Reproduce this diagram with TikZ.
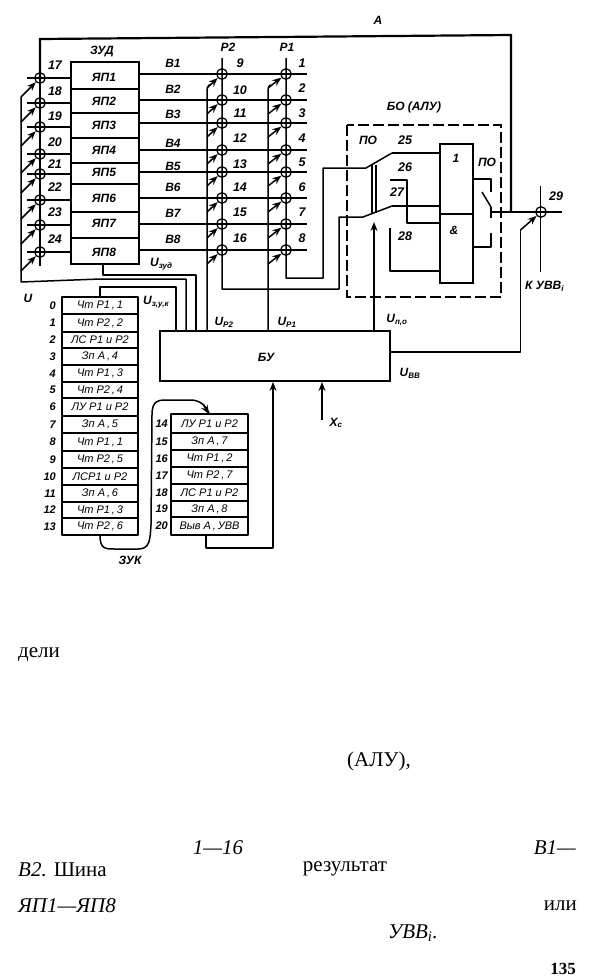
\documentclass[tikz,border=0pt]{standalone}
\usepackage{fontspec}
\setmainfont{Liberation Serif}
\newfontfamily\dgfont{Liberation Sans}
\usetikzlibrary{arrows.meta}
\tikzset{
  wire/.style={line width=1.5pt,line join=round},
  thinwire/.style={line width=1.3pt,line join=round},
  bus/.style={line width=2.2pt,line join=miter},
  ctl/.style={line width=1.5pt,-{Stealth[length=9pt,width=7pt,inset=3pt]}},
  xpt/.style={circle,draw,line width=1.3pt,minimum size=10.5pt,inner sep=0pt},
  blockbox/.style={draw,line width=1.7pt,inner sep=0pt},
  lab/.style={font=\dgfont\bfseries\itshape\fontsize{12}{12}\selectfont,inner sep=0pt},
  rowlab/.style={font=\dgfont\itshape\fontsize{11}{11}\selectfont,inner sep=0pt},
  numlab/.style={font=\dgfont\bfseries\itshape\fontsize{12.5}{13}\selectfont,inner sep=0pt},
  pnumlab/.style={font=\dgfont\bfseries\itshape\fontsize{11}{11}\selectfont,inner sep=0pt},
  frame/.style={line width=1.5pt,dash pattern=on 11pt off 4pt},
  txt/.style={font=\fontsize{21}{21}\selectfont,inner sep=0pt},
  ittxt/.style={font=\itshape\fontsize{21}{21}\selectfont,inner sep=0pt},
}
\begin{document}
\begin{tikzpicture}[x=1pt,y=-1pt]
\useasboundingbox (0,0) rectangle (589,978);
% --- memory block
\node[blockbox,minimum width=68pt,minimum height=202pt] (zud) at (105,163) {};
\foreach \i/\a in {1/89,2/113,3/138,4/163,5/184,6/212,7/238}
  \draw[wire] (71,\a) -- (139,\a);
\foreach \i/\y in {1/77,2/101,3/125,4/150,5/172,6/198,7/223,8/252}
  \node[lab] (yp\i) at (104,\y) {ЯП\i};
\node[lab] (zudlab) at (102,52) {ЗУД};
% --- crosspoints
\foreach \i/\y in {1/74,2/100,3/123,4/150,5/172,6/198,7/224,8/250}{
  \node[xpt] (pb\i) at (222,\y) {};
  \node[xpt] (pa\i) at (286,\y) {};
  \draw[wire] (pb\i -| zud.east) -- (pb\i.center) -- (pa\i.center) -- ++(21,0);
}
\foreach \i/\y in {1/78,2/103,3/127,4/154,5/174,6/200,7/225,8/252}{
  \node[xpt] (l\i) at (40,\y) {};
  \draw[wire] (27,\y) -- (l\i.center) -- (l\i -| zud.west);
}
% --- control unit
\node[blockbox,minimum width=230pt,minimum height=50pt] (bu) at (275,356) {};
\node[lab] (bulab) at (266,357) {БУ};
% --- bus A
\node[xpt] (c29) at (541,212) {};
\draw[bus] (40,80) -- (40,39) -- (511,35) -- (511,212);
\draw[wire] (40,80) -- (40,266);
% --- register verticals
\coordinate (topb) at (222,58);
\coordinate (topa) at (286,58);
\draw[wire] (topb) -- (222,289) -- (339,289) -- (339,217) -- (363,217) -- (392,206) coordinate (swb);
\draw[wire] (topa) -- (286,278) -- (323,278) -- (323,168) -- (366,168) -- (392,153) coordinate (swa);
% --- control buses
\draw[wire,rounded corners=3pt] (bu.north -| 207,0) -- (207,87) -- (209,85);
\draw[wire,rounded corners=3pt] (bu.north -| 268,0) -- (268,87) -- (270,85);
\draw[wire] (21,97) -- (21,282) -- (100,279) -- (186,279) -- (bu.north -| 186,0);
\draw[wire] ([xshift=-2pt]zud.south) -- (103,275) -- (196,275) -- (bu.north -| 196,0);
% --- arrows to crosspoints
\foreach \i in {1,...,8}{
  \draw[ctl] (pb\i) ++(-15,14) -- (pb\i);
  \draw[ctl] (pa\i) ++(-18,14) -- (pa\i);
  \draw[ctl] (l\i) ++(-19,19) -- (l\i);
}
% --- number labels
\foreach \t/\y in {17/65,18/91,19/116,20/142,21/164,22/187,23/212,24/239}
  \node[numlab] (n\t) at (55,\y) {\t};
\foreach \t/\y in {9/63,10/90,11/113,12/138,13/164,14/187,15/212,16/238}
  \node[numlab] (n\t) at (240,\y) {\t};
\foreach \t/\y in {1/63,2/88,3/113,4/138,5/162,6/187,7/212,8/238}
  \node[numlab] (n\t) at (302,\y) {\t};
\foreach \t/\y in {1/63,2/89,3/114,4/143,5/166,6/187,7/213,8/239}
  \node[lab] (vb\t) at (173,\y) {В\t};
\node[lab] (rb) at (228,47) {Р2};
\node[lab] (ra) at (287,47) {Р1};
\node[lab] (alab) at (378,20) {А};
\node[lab,anchor=west] (uzud) at (150,264) {U\textsubscript{зуд}};
\node[lab,anchor=west] (uzuk) at (143,302) {U\textsubscript{з,у,к}};
\node[lab] (ulab) at (28,298) {U};
\node[lab] (urb) at (224,322) {U\textsubscript{Р2}};
\node[lab] (ura) at (287,322) {U\textsubscript{Р1}};
% --- operation block
\draw[frame] (347,125) rectangle (501,297);
\node[lab] (bolab) at (414,107) {БО (АЛУ)};
\node[lab] (po1) at (368,140) {ПО};
\node[lab] (po2) at (487,162) {ПО};
\node[numlab] (n25) at (405,140) {25};
\node[numlab] (n26) at (405,167) {26};
\node[numlab] (n27) at (397,192) {27};
\node[numlab] (n28) at (405,236) {28};
\node[numlab] (n29) at (556,196) {29};
\node[blockbox,minimum width=33pt,minimum height=70pt] (gor) at (456.5,179) {};
\node[blockbox,minimum width=33pt,minimum height=69pt] (gand) at (456.5,248.5) {};
\node[lab] (orlab) at (456,158) {1};
\node[lab] (andlab) at (454,230) {\&};
\draw[wire] (swa) -- (swa -| gor.west);
\draw[wire] (swb) -- (swb -| gor.west);
\draw[thinwire] (372,165) -- (372,213);
\draw[thinwire] (376,165) -- (376,213);
\draw[wire] (390,180) -- (407,180) -- (407,223) -- (440,223);
\draw[wire] (390,228) -- (390,271) -- (440,271);
\node[lab] (upo) at (397,320) {U\textsubscript{п,о}};
\draw[ctl] (374,331) -- (374,222);
% --- output
\draw[wire] (473,179) -- (491,179) -- (491,192);
\draw[wire] (482,192) -- (491,207);
\draw[wire] (491,207) -- (491,218);
\draw[wire] (473,247) -- (491,247) -- (491,233);
\draw[wire] (491,212) -- (c29.center) -- (562,212);
\draw[wire] (540.5,186) -- (540.5,272);
\draw[wire] (bu.east |- 0,352) -- (520.5,352) -- (520.5,230);
\draw[ctl] (520.5,230) -- (c29);
\node[lab,anchor=west] (kuvv) at (525,286) {К УВВ\textsubscript{\itshape i}};
\node[lab] (uvv) at (410,373) {U\textsubscript{ВВ}};
% --- Xc
\coordinate (xcs) at (322,420);
\draw[ctl,line width=2pt] (xcs) -- (322,382);
\node[lab] (xc) at (336,423) {X\textsubscript{с}};
% --- program, left column
\foreach \n/\a/\b/\t in {
 0/297/314/Чт Р1\,{,}\,1,
 1/314/332/Чт Р2\,{,}\,2,
 2/332/348/ЛС Р1 и Р2,
 3/348/365/Зп А\,{,}\,4,
 4/365/382/Чт Р1\,{,}\,3,
 5/382/398/Чт Р2\,{,}\,4,
 6/398/416/ЛУ Р1 и Р2,
 7/416/433/Зп А\,{,}\,5,
 8/433/451/Чт Р1\,{,}\,1,
 9/451/468/Чт Р2\,{,}\,5,
 10/468/485/ЛСР1 и Р2,
 11/485/502/Зп А\,{,}\,6,
 12/502/518/Чт Р1\,{,}\,3,
 13/518/535/Чт Р2\,{,}\,6}{
  \draw[wire] (62,\a) rectangle (138,\b) node[midway,rowlab] (pr\n) {\t};
  \node[pnumlab,anchor=east] (pn\n) at (56,{(\a+\b)/2}) {\n};
}
% --- program, right column
\foreach \n/\a/\b/\t in {
 14/414/433/ЛУ Р1 и Р2,
 15/433/450/Зп А\,{,}\,7,
 16/450/467/Чт Р1\,{,}\,2,
 17/467/484/Чт Р2\,{,}\,7,
 18/484/501/ЛС Р1 и Р2,
 19/501/517/Зп А\,{,}\,8,
 20/517/535/Выв А\,{,}\,УВВ}{
  \draw[wire] (171,\a) rectangle (248,\b) node[midway,rowlab] (pr\n) {\t};
  \node[pnumlab,anchor=east] (pn\n) at (168,{(\a+\b)/2}) {\n};
}
% --- ЗУК
\coordinate (ptop) at (100,297);
\coordinate (pbot) at (100,535);
\coordinate (rtop) at (209,414);
\coordinate (rbot) at (206,535);
\draw[wire] (ptop) -- (100,287) -- (176,287) -- (bu.north -| 176,0);
\draw[wire] (pbot) .. controls (100,549) and (105,549) .. (115,549) -- (138,549)
  .. controls (150,549) and (150,540) .. (151,525) -- (152,415)
  .. controls (152,401) and (158,400) .. (165,400) -- (190,400)
  .. controls (200,400) and (205,405) .. (209,413);
\draw[ctl] (203,404) -- (rtop);
\node[lab] (zuk) at (130,560) {ЗУК};
\draw[wire] (rbot) -- (206,548) -- (273,548) -- (273,400);
\draw[ctl] (273,400) -- (bu.south -| 273,0);
% --- page text
\node[txt,anchor=west] (w1) at (18,655) {дели};
\node[txt] (w2) at (379,761) {(АЛУ),};
\node[ittxt] (w3) at (218,848) {1—16};
\node[ittxt,anchor=east] (w4) at (576,848) {В1—};
\node[txt,anchor=west] (w5) at (18,870) {\textit{В2.} Шина};
\node[txt] (w6) at (345,869) {результат};
\node[ittxt,anchor=west] (w7) at (18,906) {ЯП1—ЯП8};
\node[txt,anchor=east] (w8) at (577,906) {или};
\node[ittxt] (w9) at (413,933) {УВВ\textsubscript{\itshape i}.};
\node[font=\bfseries\fontsize{17}{17}\selectfont,inner sep=0pt] (w10) at (563,969) {135};
\end{tikzpicture}
\end{document}
